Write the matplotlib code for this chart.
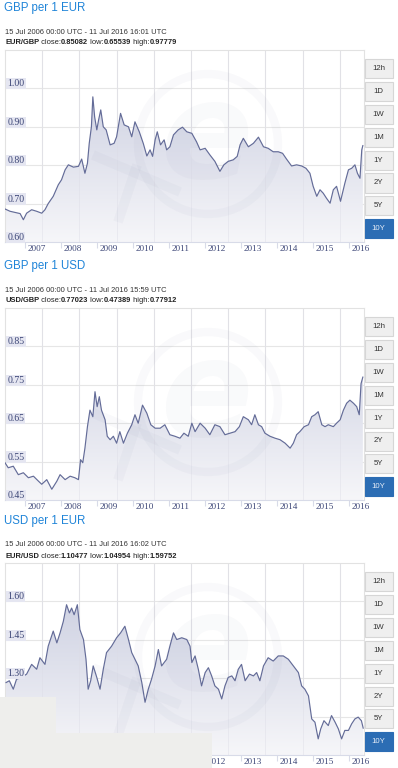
import numpy as np
import matplotlib
matplotlib.use("Agg")
import matplotlib.pyplot as plt
from matplotlib.patches import Rectangle, Circle
from matplotlib.colors import LinearSegmentedColormap
from matplotlib.lines import Line2D

# -----------------------------------------------------------------------------
# Data (decimal years, rate)
# -----------------------------------------------------------------------------

eur_gbp_t = [2006.44, 2006.58, 2006.72, 2006.86, 2006.95, 2007.04, 2007.18, 2007.32, 2007.46, 2007.55,
             2007.64, 2007.78, 2007.92, 2008.01, 2008.11, 2008.20, 2008.34, 2008.48, 2008.57, 2008.66,
             2008.73, 2008.78, 2008.84, 2008.88, 2008.93, 2008.99, 2009.04, 2009.10, 2009.17, 2009.25,
             2009.36, 2009.47, 2009.54, 2009.65, 2009.75, 2009.87, 2009.96, 2010.05, 2010.17, 2010.28,
             2010.38, 2010.47, 2010.54, 2010.61, 2010.67, 2010.76, 2010.86, 2010.93, 2011.02, 2011.12,
             2011.25, 2011.37, 2011.49, 2011.63, 2011.76, 2011.86, 2012.00, 2012.13, 2012.27, 2012.41,
             2012.52, 2012.64, 2012.78, 2012.89, 2012.97, 2013.06, 2013.20, 2013.34, 2013.48, 2013.62,
             2013.75, 2013.89, 2014.03, 2014.15, 2014.26, 2014.40, 2014.54, 2014.68, 2014.80, 2014.91,
             2015.00, 2015.10, 2015.19, 2015.28, 2015.37, 2015.47, 2015.56, 2015.65, 2015.76, 2015.88,
             2015.98, 2016.07, 2016.16, 2016.23, 2016.30, 2016.35, 2016.38]
eur_gbp_v = [0.686, 0.680, 0.677, 0.674, 0.658, 0.675, 0.684, 0.680, 0.675, 0.684,
             0.700, 0.719, 0.749, 0.762, 0.788, 0.801, 0.795, 0.797, 0.816, 0.779,
             0.805, 0.857, 0.900, 0.978, 0.926, 0.892, 0.918, 0.944, 0.900, 0.892,
             0.853, 0.857, 0.874, 0.935, 0.905, 0.900, 0.874, 0.913, 0.887, 0.857,
             0.824, 0.840, 0.823, 0.866, 0.887, 0.853, 0.866, 0.840, 0.848, 0.879,
             0.892, 0.899, 0.887, 0.883, 0.861, 0.840, 0.844, 0.827, 0.810, 0.784,
             0.801, 0.810, 0.814, 0.823, 0.853, 0.870, 0.848, 0.857, 0.873, 0.848,
             0.844, 0.835, 0.835, 0.831, 0.816, 0.798, 0.801, 0.798, 0.792, 0.779,
             0.745, 0.719, 0.736, 0.727, 0.714, 0.701, 0.736, 0.745, 0.706, 0.753,
             0.788, 0.792, 0.801, 0.779, 0.766, 0.840, 0.851]

usd_gbp_t = [2006.44, 2006.53, 2006.67, 2006.81, 2006.95, 2007.09, 2007.23, 2007.37, 2007.46, 2007.60,
             2007.74, 2007.88, 2007.97, 2008.11, 2008.25, 2008.38, 2008.48, 2008.54, 2008.60, 2008.66,
             2008.73, 2008.80, 2008.88, 2008.94, 2009.00, 2009.06, 2009.12, 2009.22, 2009.28, 2009.36,
             2009.45, 2009.54, 2009.63, 2009.73, 2009.84, 2009.96, 2010.05, 2010.14, 2010.26, 2010.38,
             2010.49, 2010.61, 2010.75, 2010.88, 2011.02, 2011.16, 2011.30, 2011.41, 2011.53, 2011.63,
             2011.72, 2011.86, 2012.00, 2012.13, 2012.27, 2012.41, 2012.55, 2012.69, 2012.83, 2012.95,
             2013.06, 2013.20, 2013.29, 2013.38, 2013.48, 2013.57, 2013.66, 2013.80, 2013.94, 2014.08,
             2014.22, 2014.36, 2014.45, 2014.54, 2014.63, 2014.75, 2014.87, 2014.96, 2015.05, 2015.14,
             2015.24, 2015.33, 2015.42, 2015.56, 2015.65, 2015.75, 2015.84, 2015.93, 2016.02, 2016.12,
             2016.21, 2016.28, 2016.33, 2016.38]
usd_gbp_v = [0.547, 0.534, 0.538, 0.516, 0.521, 0.508, 0.512, 0.499, 0.491, 0.503,
             0.478, 0.499, 0.516, 0.503, 0.512, 0.508, 0.503, 0.555, 0.547, 0.585,
             0.641, 0.684, 0.667, 0.732, 0.693, 0.719, 0.684, 0.659, 0.616, 0.607,
             0.616, 0.598, 0.628, 0.598, 0.624, 0.646, 0.672, 0.650, 0.697, 0.676,
             0.646, 0.637, 0.637, 0.646, 0.620, 0.616, 0.611, 0.624, 0.616, 0.650,
             0.628, 0.650, 0.637, 0.620, 0.646, 0.641, 0.620, 0.624, 0.628, 0.641,
             0.667, 0.659, 0.646, 0.672, 0.646, 0.641, 0.624, 0.616, 0.611, 0.607,
             0.598, 0.585, 0.598, 0.620, 0.628, 0.641, 0.646, 0.667, 0.672, 0.680,
             0.646, 0.641, 0.646, 0.641, 0.650, 0.659, 0.684, 0.702, 0.710, 0.702,
             0.693, 0.672, 0.753, 0.770]

eur_usd_t = [2006.47, 2006.56, 2006.67, 2006.76, 2006.90, 2007.04, 2007.18, 2007.32, 2007.41, 2007.55,
             2007.64, 2007.78, 2007.88, 2007.97, 2008.06, 2008.15, 2008.23, 2008.29, 2008.36, 2008.45,
             2008.52, 2008.62, 2008.69, 2008.75, 2008.82, 2008.89, 2008.99, 2009.08, 2009.17, 2009.26,
             2009.40, 2009.54, 2009.65, 2009.77, 2009.87, 2009.96, 2010.05, 2010.14, 2010.24, 2010.33,
             2010.42, 2010.51, 2010.61, 2010.70, 2010.79, 2010.93, 2011.02, 2011.12, 2011.21, 2011.35,
             2011.49, 2011.58, 2011.63, 2011.72, 2011.81, 2011.90, 2012.00, 2012.09, 2012.18, 2012.27,
             2012.37, 2012.46, 2012.55, 2012.64, 2012.74, 2012.83, 2012.92, 2013.01, 2013.11, 2013.23,
             2013.34, 2013.43, 2013.52, 2013.62, 2013.75, 2013.89, 2014.03, 2014.17, 2014.31, 2014.45,
             2014.59, 2014.68, 2014.77, 2014.87, 2014.96, 2015.05, 2015.14, 2015.21, 2015.30, 2015.42,
             2015.51, 2015.61, 2015.70, 2015.79, 2015.88, 2015.98, 2016.07, 2016.16, 2016.25, 2016.34,
             2016.39]
eur_usd_v = [1.283, 1.290, 1.257, 1.296, 1.303, 1.316, 1.354, 1.335, 1.380, 1.354,
             1.425, 1.484, 1.438, 1.477, 1.522, 1.587, 1.555, 1.574, 1.548, 1.587,
             1.490, 1.451, 1.374, 1.257, 1.290, 1.348, 1.303, 1.257, 1.335, 1.400,
             1.425, 1.458, 1.477, 1.503, 1.451, 1.400, 1.374, 1.348, 1.283, 1.206,
             1.257, 1.296, 1.348, 1.412, 1.348, 1.374, 1.425, 1.477, 1.451, 1.458,
             1.451, 1.425, 1.361, 1.387, 1.335, 1.270, 1.322, 1.341, 1.309, 1.270,
             1.257, 1.219, 1.270, 1.303, 1.309, 1.290, 1.335, 1.354, 1.290, 1.316,
             1.309, 1.322, 1.290, 1.348, 1.380, 1.367, 1.387, 1.387, 1.374, 1.348,
             1.322, 1.270, 1.257, 1.231, 1.141, 1.128, 1.063, 1.102, 1.134, 1.115,
             1.154, 1.128, 1.102, 1.063, 1.096, 1.096, 1.122, 1.141, 1.148, 1.134,
             1.105]

year_ticks = [2007, 2008, 2009, 2010, 2011, 2012, 2013, 2014, 2015, 2016]
buttons = ["12h", "1D", "1W", "1M", "1Y", "2Y", "5Y", "10Y"]

panels = [
    dict(title="GBP per 1 EUR", pair="EUR/GBP", close="0.85082", low="0.65539", high="0.97779",
         stamp="15 Jul 2006 00:00 UTC - 11 Jul 2016 16:01 UTC",
         t=eur_gbp_t, v=eur_gbp_v, ylim=(0.60, 1.10),
         yticks=[0.60, 0.70, 0.80, 0.90, 1.00]),
    dict(title="GBP per 1 USD", pair="USD/GBP", close="0.77023", low="0.47389", high="0.77912",
         stamp="15 Jul 2006 00:00 UTC - 11 Jul 2016 15:59 UTC",
         t=usd_gbp_t, v=usd_gbp_v, ylim=(0.45, 0.95),
         yticks=[0.45, 0.55, 0.65, 0.75, 0.85]),
    dict(title="USD per 1 EUR", pair="EUR/USD", close="1.10477", low="1.04954", high="1.59752",
         stamp="15 Jul 2006 00:00 UTC - 11 Jul 2016 16:02 UTC",
         t=eur_usd_t, v=eur_usd_v, ylim=(1.00, 1.75),
         yticks=[1.00, 1.15, 1.30, 1.45, 1.60]),
]
panel_tops = [50, 308, 563]

# -----------------------------------------------------------------------------
# Figure setup (pixel helpers, 100 dpi)
# -----------------------------------------------------------------------------

W, H = 398, 768
fig = plt.figure(figsize=(W / 100, H / 100), dpi=100)
fig.patch.set_facecolor("white")
renderer = fig.canvas.get_renderer()

def fx(px):
    return px / W

def fy(py):
    return 1 - py / H

X0 = 2006.44
PX_PER_YEAR = 36.0
PLOT_L, PLOT_R, PLOT_H = 5, 364, 192
X1 = X0 + (PLOT_R - PLOT_L) / PX_PER_YEAR
vgrid = [2007.476 + 1.0333 * k for k in range(9)]

line_col = "#646c98"
label_col = "#3b4576"
grid_col = "#e6e6e6"
mark_col = "#55608f"
fill_cmap = LinearSegmentedColormap.from_list("fill", ["#f6f6f9", "#c5c9dd"])
serif = "Liberation Serif"
sans = "Liberation Sans"


def rich_text(x, y, pieces, size):
    for s, bold in pieces:
        t = fig.text(fx(x), fy(y), s, fontsize=size, family=sans,
                     fontweight="bold" if bold else "normal",
                     color="#222222", ha="left", va="center")
        x += t.get_window_extent(renderer).width


def draw_panel(top, p):
    ax = fig.add_axes([fx(PLOT_L), fy(top + PLOT_H), (PLOT_R - PLOT_L) / W, PLOT_H / H])
    ax.set_xlim(X0, X1)
    ax.set_ylim(*p["ylim"])
    ax.set_facecolor("white")

    # grid
    for y in p["yticks"][1:]:
        ax.axhline(y, color=grid_col, lw=0.8, zorder=0)
    for x in vgrid:
        ax.axvline(x, color=grid_col, lw=0.8, zorder=0)

    # gradient area under the line
    poly = ax.fill_between(p["t"], p["v"], p["ylim"][0], facecolor="none", edgecolor="none")
    grad = np.linspace(1, 0, 256).reshape(-1, 1)
    im = ax.imshow(grad, extent=[X0, X1, p["ylim"][0], p["ylim"][1]], aspect="auto",
                   cmap=fill_cmap, origin="upper", zorder=1, interpolation="bilinear")
    im.set_clip_path(poly.get_paths()[0], transform=ax.transData)
    for x in vgrid:
        ax.axvline(x, color="#dcdce6", lw=0.6, zorder=1.5, alpha=0.5)
    ax.plot(p["t"], p["v"], color=line_col, lw=0.85, zorder=3)

    # spines and ticks
    for s in ax.spines.values():
        s.set_color("#e2e2e2")
        s.set_linewidth(0.8)
    ax.spines["bottom"].set_color("#d8dbe8")
    ax.set_yticks([])
    ax.set_xticks(year_ticks)
    ax.set_xticklabels([])
    ax.tick_params(axis="x", length=4, width=0.8, color="#d8dbe8", direction="out")

    # year labels, left aligned just right of tick
    for yr in year_ticks:
        ax.text(yr + 2 / PX_PER_YEAR, -6.7 / PLOT_H, str(yr), transform=ax.get_xaxis_transform(),
                fontsize=6.6, family=serif, color=label_col, ha="left", va="center", clip_on=False)

    # value labels inside plot with light box
    y0, y1 = p["ylim"]
    for y in p["yticks"]:
        ax.text(X0 + 2.3 / PX_PER_YEAR, y + (4.6 / PLOT_H) * (y1 - y0), f"{y:.2f}",
                fontsize=7, family=serif, color=label_col, ha="left", va="center", zorder=4,
                bbox=dict(boxstyle="square,pad=0.12", facecolor="#e5e6f1", edgecolor="none"))

    # faint xe watermark
    cx, cy = 208, top + 94
    fig.add_artist(Circle((cx / 100, (H - cy) / 100), 0.70, transform=fig.dpi_scale_trans,
                          facecolor="none", edgecolor=mark_col, lw=6, alpha=0.035, zorder=5))
    for (ax_, ay_), (bx_, by_) in [((93, 105), (180, 142)), ((137, 115), (118, 172))]:
        fig.add_artist(Line2D([fx(ax_), fx(bx_)], [fy(top + ay_), fy(top + by_)],
                              color=mark_col, lw=7, alpha=0.035, solid_capstyle="butt", zorder=5))
    fig.text(fx(cx - 2), fy(cy - 4), "e", fontsize=98, family="DejaVu Sans", fontweight="bold",
             style="italic", color=mark_col, alpha=0.03, ha="center", va="center", zorder=5)

    # titles
    fig.text(fx(4), fy(top - 42), p["title"], fontsize=8.3, family=sans, color="#1f84d8",
             ha="left", va="center")
    fig.text(fx(5), fy(top - 18), p["stamp"], fontsize=5.4, family=sans, color="#333333",
             ha="left", va="center")
    rich_text(5, top - 7, [(p["pair"], True), (" close:", False), (p["close"], True),
                           (" low:", False), (p["low"], True), (" high:", False), (p["high"], True)], 5.4)

    # range buttons
    for i, b in enumerate(buttons):
        bt = top + 9 + i * 22.9
        active = b == "10Y"
        fig.add_artist(Rectangle((fx(364.5), fy(bt + 19)), 28.5 / W, 19 / H,
                                 transform=fig.transFigure,
                                 facecolor="#2c6db4" if active else "#efefef",
                                 edgecolor="#2c6db4" if active else "#d6d6d6", lw=0.8, zorder=6))
        fig.text(fx(378.5), fy(bt + 9.5), b, fontsize=5.6, family=sans,
                 color="#e8eef8" if active else "#333333", ha="center", va="center", zorder=7)


for top, p in zip(panel_tops, panels):
    draw_panel(top, p)

# light grey boxes covering the bottom-left corner
for (x, y, w, h) in [(0, 696.7, 55.7, 71.3), (0, 733, 212, 35)]:
    fig.add_artist(Rectangle((fx(x), fy(y + h)), w / W, h / H, transform=fig.transFigure,
                             facecolor="#eeeeec", edgecolor="none", zorder=20))

fig.savefig("out.png", dpi=100)
